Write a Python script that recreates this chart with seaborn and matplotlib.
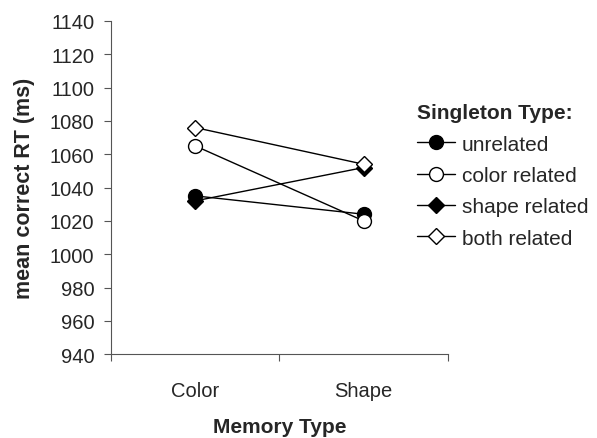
import matplotlib
matplotlib.use("Agg")
import matplotlib.pyplot as plt
import seaborn as sns
import pandas as pd
from matplotlib.lines import Line2D

memory_types = ["Color", "Shape"]
series_names = ["unrelated", "color related", "shape related", "both related"]
unrelated = [1035, 1024]
color_related = [1065, 1020]
shape_related = [1032, 1052]
both_related = [1076, 1054]
y_ticks = list(range(940, 1141, 20))

values = [unrelated, color_related, shape_related, both_related]
markers = ["o", "o", "D", "D"]
faces = ["black", "white", "black", "white"]
sizes = [10, 10, 8, 8]

sns.set_style("white")
plt.rcParams["font.family"] = ["Liberation Sans", "DejaVu Sans"]

fig = plt.figure(figsize=(5.97, 4.39), dpi=100)
ax = fig.add_axes([0.186, 0.191, 0.564, 0.759])

handles = []
for name, vals, m, fc, ms in zip(series_names, values, markers, faces, sizes):
    df = pd.DataFrame({"memory": memory_types, "rt": vals})
    sns.lineplot(data=df, x="memory", y="rt", ax=ax, color="black", lw=1,
                 marker=m, markersize=ms, markerfacecolor=fc,
                 markeredgecolor="black", markeredgewidth=1, sort=False)
    handles.append(Line2D([0], [0], color="black", lw=1, marker=m,
                          markersize=ms, markerfacecolor=fc,
                          markeredgecolor="black", label=name))

ax.set_xlim(-0.5, 1.5)
ax.set_ylim(940, 1140)
ax.set_yticks(y_ticks)
ax.set_yticklabels([str(t) for t in y_ticks], fontsize=14.5)
ax.set_xticks([-0.5, 0.5, 1.5])
ax.set_xticklabels(["", "", ""])
ax.set_xticks([0, 1], minor=True)
ax.set_xticklabels(memory_types, minor=True, fontsize=14.5)
ax.tick_params(axis="x", which="minor", length=0, pad=19)
ax.tick_params(axis="x", which="major", length=5, width=0.8, color="#555555", direction="out")
ax.tick_params(axis="y", length=5, width=0.8, color="#555555", direction="out", pad=7)
ax.tick_params(bottom=True, left=True)

for s in ["top", "right"]:
    ax.spines[s].set_visible(False)
for s in ["left", "bottom"]:
    ax.spines[s].set_color("#555555")
    ax.spines[s].set_linewidth(0.8)

ax.set_xlabel("Memory Type", fontsize=15, fontweight="bold")
ax.set_ylabel("mean correct RT (ms)", fontsize=15.5, fontweight="bold")
ax.xaxis.set_label_coords(0.5, -0.19)
ax.yaxis.set_label_coords(-0.225, 0.5)

leg = fig.legend(handles=handles, title="Singleton Type:", loc="upper left",
                 bbox_to_anchor=(0.699, 0.762), frameon=False, fontsize=15,
                 title_fontproperties={"weight": "bold", "size": 15},
                 handlelength=1.8, handletextpad=0.35, labelspacing=0.59,
                 borderpad=0, borderaxespad=0, alignment="left")

fig.savefig("out.png", dpi=100)
